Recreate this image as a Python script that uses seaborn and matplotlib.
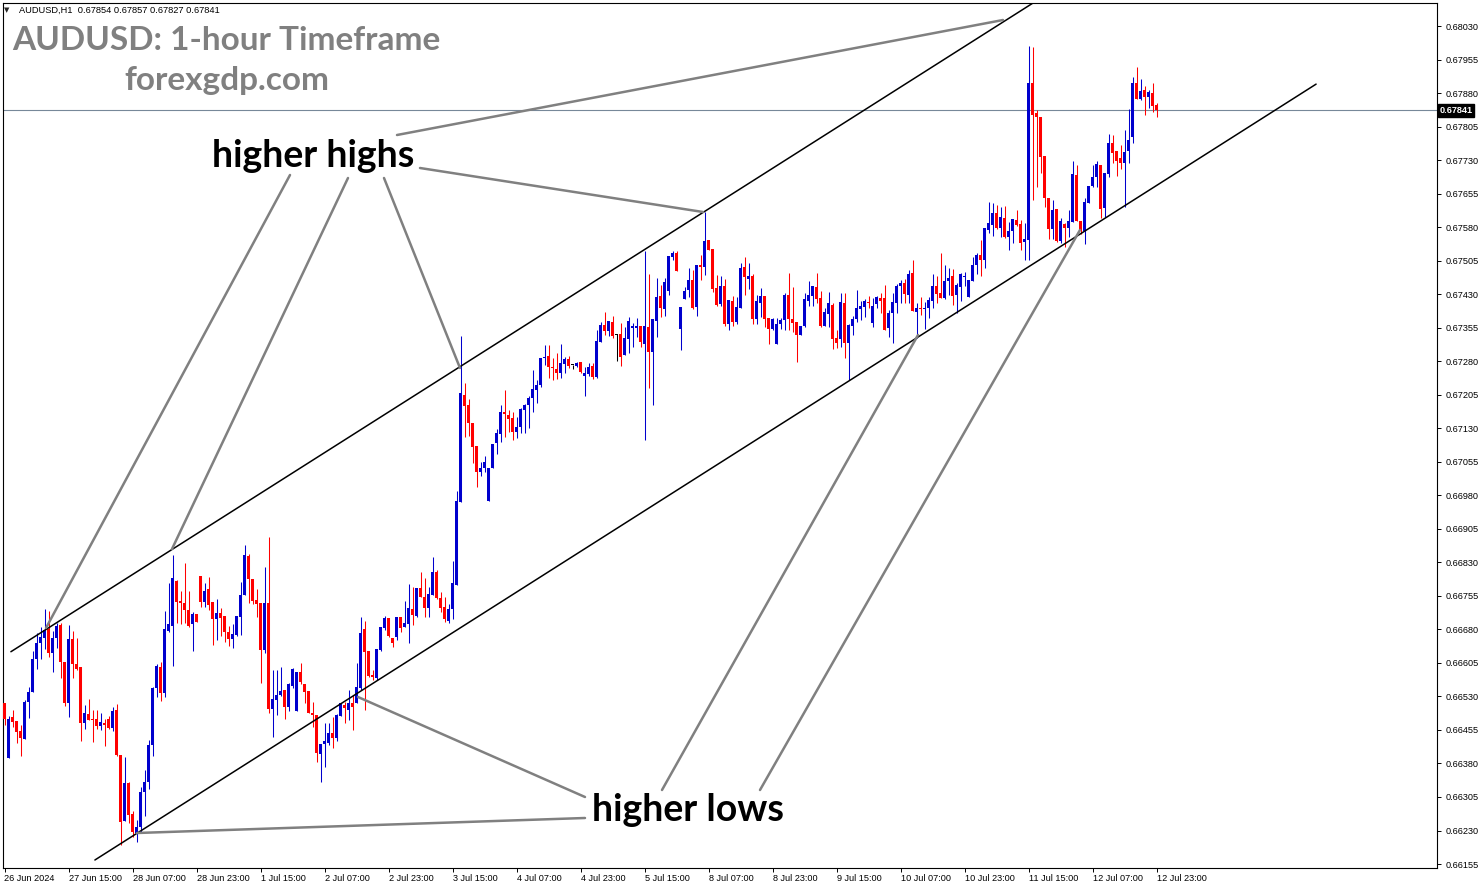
import numpy as np
import matplotlib
matplotlib.use("Agg")
import matplotlib.pyplot as plt
import matplotlib.transforms as mtransforms
from matplotlib.lines import Line2D
import seaborn as sns

# AUDUSD H1 candles, 26 Jun 23:00 .. 12 Jul 23:00 (prices in points of 1e-5)
open_pts = [
    66515, 66392, 66484, 66475, 66453, 66435, 66517, 66540, 66614, 66649, 66661, 66681, 66627, 66661, 66690, 66607,
    66515, 66658, 66602, 66596, 66470, 66491, 66479, 66479, 66464, 66470, 66479, 66459, 66500, 66399, 66251, 66336,
    66267, 66225, 66238, 66316, 66338, 66421, 66549, 66596, 66538, 66676, 66687, 66788, 66743, 66739, 66723, 66692,
    66714, 66799, 66741, 66770, 66741, 66703, 66717, 66710, 66674, 66658, 66667, 66708, 66757, 66844, 66793, 66746,
    66739, 66634, 66739, 66502, 66522, 66533, 66544, 66506, 66553, 66497, 66585, 66558, 66542, 66493, 66488, 66401,
    66424, 66426, 66448, 66437, 66486, 66511, 66500, 66515, 66515, 66549, 66681, 66632, 66578, 66571, 66634, 66683,
    66705, 66661, 66663, 66708, 66685, 66692, 66726, 66710, 66773, 66752, 66728, 66757, 66808, 66750, 66730, 66699,
    66726, 66779, 66965, 67205, 67182, 67142, 67090, 67032, 67041, 66967, 67041, 67097, 67117, 67166, 67160, 67153,
    67122, 67133, 67171, 67182, 67198, 67216, 67227, 67287, 67292, 67267, 67263, 67254, 67274, 67285, 67271, 67269,
    67278, 67247, 67251, 67269, 67245, 67323, 67361, 67348, 67368, 67339, 67341, 67294, 67330, 67354, 67354, 67359,
    67319, 67356, 67301, 67370, 67426, 67397, 67437, 67513, 67522, 67352, 67419, 67439, 67462, 67401, 67495, 67491,
    67551, 67531, 67444, 67408, 67448, 67363, 67415, 67368, 67399, 67491, 67464, 67471, 67374, 67410, 67426, 67377,
    67352, 67319, 67363, 67372, 67428, 67374, 67368, 67339, 67359, 67415, 67426, 67446, 67421, 67359, 67386, 67406,
    67332, 67330, 67410, 67321, 67359, 67374, 67397, 67401, 67413, 67365, 67408, 67421, 67421, 67354, 67388, 67410,
    67448, 67455, 67428, 67477, 67390, 67399, 67397, 67399, 67415, 67448, 67433, 67421, 67459, 67471, 67428, 67446,
    67468, 67424, 67459, 67495, 67518, 67506, 67574, 67585, 67612, 67578, 67600, 67558, 67571, 67596, 67587, 67547,
    67551, 67902, 67835, 67826, 67739, 67645, 67576, 67621, 67549, 67587, 67578, 67591, 67697, 67594, 67571, 67634,
    67672, 67692, 67719, 67623, 67699, 67768, 67750, 67735, 67723, 67750, 67782, 67902, 67867, 67887, 67871, 67880,
    67854,
]
high_pts = [
    66515, 66486, 66500, 66475, 66466, 66522, 66551, 66632, 66672, 66685, 66726, 66721, 66676, 66694, 66694, 66607,
    66690, 66676, 66661, 66596, 66511, 66524, 66500, 66500, 66493, 66479, 66486, 66506, 66513, 66399, 66394, 66338,
    66274, 66253, 66327, 66365, 66432, 66551, 66602, 66607, 66721, 66784, 66846, 66790, 66766, 66828, 66766, 66719,
    66714, 66799, 66784, 66797, 66741, 66748, 66728, 66710, 66687, 66692, 66710, 66786, 66869, 66849, 66793, 66770,
    66739, 66820, 66887, 66589, 66589, 66596, 66544, 66560, 66594, 66585, 66605, 66558, 66542, 66517, 66488, 66424,
    66470, 66470, 66484, 66491, 66515, 66517, 66544, 66533, 66605, 66708, 66699, 66632, 66589, 66636, 66685, 66710,
    66705, 66661, 66708, 66708, 66743, 66781, 66775, 66773, 66808, 66795, 66775, 66842, 66813, 66764, 66752, 66737,
    66833, 66990, 67336, 67231, 67195, 67142, 67090, 67054, 67068, 67041, 67095, 67128, 67182, 67216, 67171, 67166,
    67155, 67175, 67184, 67202, 67260, 67238, 67287, 67316, 67316, 67287, 67298, 67319, 67289, 67292, 67271, 67278,
    67278, 67267, 67276, 67276, 67350, 67368, 67390, 67370, 67381, 67341, 67365, 67356, 67379, 67365, 67377, 67359,
    67527, 67475, 67374, 67466, 67451, 67466, 67515, 67527, 67526, 67401, 67446, 67489, 67484, 67495, 67518, 67614,
    67551, 67531, 67473, 67471, 67464, 67417, 67426, 67424, 67500, 67513, 67500, 67475, 67428, 67444, 67426, 67377,
    67377, 67377, 67377, 67433, 67477, 67446, 67368, 67359, 67433, 67459, 67448, 67477, 67437, 67399, 67435, 67410,
    67350, 67433, 67433, 67363, 67381, 67439, 67415, 67419, 67426, 67421, 67426, 67433, 67451, 67395, 67433, 67453,
    67462, 67464, 67484, 67506, 67410, 67424, 67413, 67424, 67475, 67471, 67522, 67495, 67489, 67486, 67455, 67477,
    67480, 67462, 67513, 67522, 67551, 67578, 67636, 67634, 67630, 67625, 67627, 67591, 67598, 67618, 67596, 67589,
    67985, 67983, 67842, 67826, 67739, 67645, 67641, 67621, 67600, 67589, 67618, 67728, 67719, 67594, 67645, 67672,
    67719, 67728, 67719, 67701, 67788, 67786, 67750, 67764, 67797, 67844, 67916, 67938, 67911, 67896, 67887, 67902,
    67857,
]
low_pts = [
    66466, 66392, 66462, 66426, 66397, 66435, 66482, 66540, 66591, 66614, 66636, 66618, 66585, 66638, 66571, 66509,
    66484, 66571, 66589, 66430, 66457, 66477, 66428, 66457, 66455, 66419, 66457, 66453, 66397, 66198, 66251, 66247,
    66216, 66204, 66227, 66262, 66323, 66397, 66529, 66520, 66529, 66674, 66598, 66694, 66692, 66694, 66685, 66632,
    66696, 66730, 66730, 66723, 66645, 66656, 66665, 66652, 66643, 66638, 66665, 66667, 66757, 66739, 66737, 66708,
    66560, 66627, 66493, 66439, 66488, 66531, 66479, 66497, 66549, 66497, 66558, 66515, 66493, 66462, 66383, 66338,
    66372, 66421, 66415, 66430, 66486, 66470, 66477, 66455, 66515, 66544, 66500, 66573, 66567, 66567, 66632, 66679,
    66663, 66640, 66656, 66674, 66685, 66649, 66690, 66708, 66752, 66708, 66708, 66757, 66748, 66719, 66696, 66694,
    66703, 66779, 66965, 67110, 67113, 67052, 66999, 67023, 67032, 66967, 67041, 67072, 67099, 67110, 67122, 67104,
    67108, 67119, 67119, 67131, 67166, 67186, 67222, 67271, 67242, 67238, 67240, 67242, 67254, 67265, 67263, 67267,
    67254, 67202, 67247, 67240, 67242, 67323, 67339, 67336, 67332, 67280, 67269, 67294, 67298, 67312, 67334, 67312,
    67104, 67220, 67182, 67334, 67379, 67381, 67428, 67506, 67482, 67305, 67419, 67424, 67397, 67381, 67462, 67473,
    67529, 67435, 67404, 67404, 67359, 67350, 67359, 67363, 67399, 67428, 67442, 67363, 67363, 67379, 67356, 67319,
    67350, 67319, 67352, 67350, 67350, 67345, 67278, 67339, 67356, 67404, 67404, 67410, 67356, 67359, 67356, 67307,
    67310, 67312, 67287, 67238, 67339, 67368, 67372, 67379, 67399, 67356, 67399, 67388, 67350, 67334, 67321, 67388,
    67410, 67410, 67410, 67392, 67332, 67383, 67352, 67377, 67399, 67410, 67421, 67419, 67428, 67406, 67388, 67415,
    67448, 67424, 67459, 67475, 67471, 67489, 67567, 67560, 67576, 67558, 67556, 67529, 67544, 67582, 67529, 67506,
    67506, 67641, 67670, 67701, 67625, 67553, 67553, 67547, 67544, 67536, 67558, 67591, 67594, 67565, 67542, 67634,
    67670, 67670, 67600, 67603, 67692, 67723, 67694, 67710, 67625, 67723, 67768, 67867, 67864, 67831, 67847, 67838,
    67827,
]
close_pts = [
    66479, 66479, 66473, 66450, 66437, 66517, 66540, 66614, 66649, 66663, 66679, 66627, 66661, 66687, 66607, 66515,
    66658, 66602, 66591, 66470, 66493, 66477, 66477, 66464, 66473, 66466, 66459, 66497, 66399, 66249, 66336, 66265,
    66227, 66238, 66316, 66338, 66421, 66549, 66598, 66538, 66681, 66692, 66795, 66741, 66739, 66723, 66687, 66714,
    66696, 66741, 66766, 66735, 66703, 66717, 66705, 66674, 66658, 66670, 66710, 66757, 66846, 66793, 66743, 66737,
    66634, 66739, 66502, 66524, 66533, 66542, 66506, 66558, 66591, 66585, 66562, 66540, 66493, 66488, 66403, 66424,
    66430, 66448, 66437, 66488, 66515, 66504, 66515, 66506, 66551, 66672, 66629, 66576, 66573, 66636, 66685, 66705,
    66665, 66649, 66708, 66683, 66694, 66728, 66712, 66773, 66752, 66728, 66759, 66808, 66750, 66728, 66703, 66726,
    66784, 66967, 67209, 67180, 67142, 67088, 67032, 67041, 67054, 67041, 67095, 67119, 67166, 67162, 67151, 67122,
    67133, 67173, 67182, 67198, 67218, 67227, 67287, 67289, 67267, 67265, 67254, 67276, 67285, 67269, 67271, 67276,
    67256, 67254, 67267, 67245, 67325, 67361, 67348, 67370, 67336, 67339, 67289, 67332, 67370, 67359, 67359, 67323,
    67359, 67301, 67374, 67424, 67399, 67457, 67515, 67522, 67482, 67401, 67437, 67462, 67399, 67495, 67491, 67549,
    67529, 67442, 67406, 67448, 67363, 67417, 67368, 67401, 67489, 67468, 67471, 67374, 67415, 67426, 67374, 67352,
    67374, 67363, 67372, 67428, 67374, 67365, 67339, 67359, 67419, 67428, 67448, 67419, 67359, 67390, 67410, 67330,
    67321, 67413, 67321, 67361, 67374, 67399, 67404, 67415, 67410, 67404, 67424, 67415, 67350, 67388, 67413, 67448,
    67455, 67430, 67475, 67392, 67399, 67397, 67399, 67417, 67448, 67430, 67421, 67459, 67466, 67426, 67451, 67475,
    67471, 67462, 67495, 67518, 67506, 67578, 67589, 67612, 67578, 67603, 67558, 67571, 67598, 67585, 67544, 67553,
    67902, 67831, 67826, 67737, 67645, 67576, 67618, 67549, 67594, 67578, 67594, 67699, 67594, 67574, 67636, 67672,
    67692, 67721, 67621, 67701, 67768, 67746, 67728, 67723, 67748, 67775, 67902, 67867, 67885, 67871, 67882, 67851,
    67841,
]

time_ticks = [0, 16, 32, 48, 64, 80, 96, 112, 128, 144, 160, 176, 192, 208, 224, 240, 256, 272, 288]
time_labels = ["26 Jun 2024", "27 Jun 15:00", "28 Jun 07:00", "28 Jun 23:00", "1 Jul 15:00",
               "2 Jul 07:00", "2 Jul 23:00", "3 Jul 15:00", "4 Jul 07:00", "4 Jul 23:00",
               "5 Jul 15:00", "8 Jul 07:00", "8 Jul 23:00", "9 Jul 15:00", "10 Jul 07:00",
               "10 Jul 23:00", "11 Jul 15:00", "12 Jul 07:00", "12 Jul 23:00"]
price_labels = ["0.66155", "0.66230", "0.66305", "0.66380", "0.66455", "0.66530", "0.66605",
                "0.66680", "0.66755", "0.66830", "0.66905", "0.66980", "0.67055", "0.67130",
                "0.67205", "0.67280", "0.67355", "0.67430", "0.67505", "0.67580", "0.67655",
                "0.67730", "0.67805", "0.67880", "0.67955", "0.68030"]

# channel lines (bar index, price)
upper_line = ([1.6, 300.0], [0.66630, 0.68325])
lower_line = ([22.6, 327.9], [0.66164, 0.67900])

W, H = 1483, 888
BULL, BEAR, DOJI = "#0000CD", "#FF0000", "#000000"
GREY = "#808080"

sns.set_theme(style="white")
plt.rcParams['font.family'] = ['Liberation Sans', 'DejaVu Sans']

o = np.array(open_pts) / 1e5
h = np.array(high_pts) / 1e5
l = np.array(low_pts) / 1e5
c = np.array(close_pts) / 1e5
x = np.arange(len(c))
cols = np.where(c > o, BULL, np.where(c < o, BEAR, DOJI))

fig = plt.figure(figsize=(W / 100, H / 100), dpi=100)
fig.patch.set_facecolor("white")
ax = fig.add_axes([3 / W, 20 / H, 1434 / W, 865 / H])
ax.set_facecolor("white")

# current price line
ax.axhline(c[-1], color="#778899", lw=0.8, zorder=1)

# candles
ax.vlines(x, l, h, colors=cols, lw=0.75, zorder=3)
body_lo = np.minimum(o, c)
body_h = np.maximum(np.abs(c - o), 0.00002)
ax.bar(x, body_h, bottom=body_lo, width=0.75, color=cols, linewidth=0, zorder=4)

# channel
ax.plot(*upper_line, color="black", lw=1.1, zorder=5)
ax.plot(*lower_line, color="black", lw=1.1, zorder=5)

ax.set_xlim(-0.375, 358.125)
ax.set_ylim(0.661461, 0.680815)

for s in ax.spines.values():
    s.set_color("black")
    s.set_linewidth(0.8)

ax.yaxis.tick_right()
ax.set_yticks([float(v) for v in price_labels], price_labels)
ax.set_xticks(time_ticks, time_labels)
for lab in ax.get_xticklabels():
    lab.set_horizontalalignment("left")
ax.tick_params(axis="y", which="both", right=True, left=False, direction="out",
               length=3, width=0.7, color="black", labelsize=6.6, pad=3, labelcolor="black")
ax.tick_params(axis="x", which="both", bottom=True, direction="out",
               length=3, width=0.7, color="black", labelsize=6.6, pad=1.0, labelcolor="black")
ax.grid(False)

# price tag
blend = mtransforms.blended_transform_factory(ax.transAxes, ax.transData)
ax.text(1.0015, c[-1], "0.67841", transform=blend, ha="left", va="center",
        fontsize=6.6, color="white", fontweight="bold",
        bbox=dict(facecolor="black", edgecolor="black", pad=1.2), zorder=10, clip_on=False)


def fx(px):
    return px / W


def fy(py):
    return 1 - py / H


# header
fig.text(fx(4), fy(10), "\u25bc", fontsize=5, family="DejaVu Sans", va="center", ha="left")
fig.text(fx(19), fy(10), "AUDUSD,H1  0.67854 0.67857 0.67827 0.67841", fontsize=6.7,
         va="center", ha="left", color="black")

# titles
fig.text(fx(12), fy(50), "AUDUSD: 1-hour Timeframe", fontsize=24, family="Lato",
         fontweight="bold", color=GREY, ha="left", va="baseline")
fig.text(fx(227), fy(90), "forexgdp.com", fontsize=24, family="Lato",
         fontweight="bold", color=GREY, ha="center", va="baseline")

# pointer lines
pointers = [
    ((397, 135), (1003, 20)),
    ((420, 168), (703, 212)),
    ((290, 175), (46, 628)),
    ((348, 178), (172, 549)),
    ((384, 178), (460, 368)),
    ((585, 797), (358, 697)),
    ((585, 818), (137, 833)),
    ((662, 790), (918, 335)),
    ((760, 790), (1080, 230)),
]
for (x1, y1), (x2, y2) in pointers:
    fig.add_artist(Line2D([fx(x1), fx(x2)], [fy(y1), fy(y2)], transform=fig.transFigure,
                          color=GREY, lw=1.8, zorder=20))

fig.text(fx(313), fy(167), "higher highs", fontsize=27, family="Lato", fontweight="bold",
         color="black", ha="center", va="baseline", zorder=21)
fig.text(fx(688), fy(821), "higher lows", fontsize=27, family="Lato", fontweight="bold",
         color="black", ha="center", va="baseline", zorder=21)

fig.savefig("out.png", dpi=100, facecolor="white")
